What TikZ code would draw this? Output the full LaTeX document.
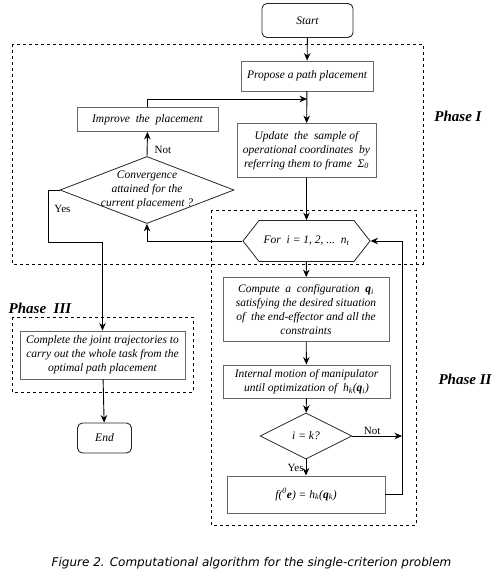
\documentclass[tikz,border=0pt]{standalone}
\usepackage{fontspec}
\setmainfont{Liberation Serif}
\newfontfamily\captionfont{DejaVu Sans}
\usetikzlibrary{arrows.meta, shapes.geometric, shapes.symbols}

\newcommand{\qvec}{\textbf{\textit{q}}}
\newcommand{\evec}{\textbf{\textit{e}}}

\begin{document}
\begin{tikzpicture}[
    x=1pt, y=-1pt,
    font=\fontsize{11.5}{13.8}\selectfont\itshape,
    box/.style={rectangle, draw=black!60, line width=0.9pt, inner sep=1pt, align=center},
    terminal/.style={box, draw=black!85, rounded corners=5pt},
    decision/.style={diamond, draw=black!85, line width=0.8pt, inner sep=0pt, align=center},
    loopnode/.style={signal, signal to=west and east, signal pointer angle=104, draw=black!85, line width=0.8pt, inner sep=0pt},
    flow/.style={-{Stealth[length=7.5pt, width=6.5pt]}, line width=0.9pt},
    phase/.style={dashed, line width=0.6pt},
    phasename/.style={font=\fontsize{15}{15}\selectfont\bfseries\itshape},
    answer/.style={font=\fontsize{11}{11}\selectfont\upshape, inner sep=1pt}
]

    % Marco de la figura
    \useasboundingbox (0,0) rectangle (497,575);

    % Zonas de las fases
    \draw[phase] (12,44) rectangle (423,264);
    \draw[phase] (211,210) rectangle (416,525);
    \draw[phase] (12,317) rectangle (193,392);

    \node[phasename] (phaseone) at (458,116) {Phase I};
    \node[phasename] (phasetwo) at (465,379) {Phase II};
    \node[phasename] (phasethree) at (40,308) {Phase\ \ III};

    % Bloques del diagrama
    \node[terminal, minimum width=91, minimum height=34] (start) at (307.5,20.5) {Start};
    \node[box, minimum width=132, minimum height=30] (propose) at (307,76) {Propose a path placement};
    \node[box, minimum width=141, minimum height=24] (improve) at (147.5,119.5) {Improve\ \ the\ \ placement};
    \node[box, minimum width=139, minimum height=54] (update) at (306.5,150.5)
        {Update\ \ the\ \ sample of\\ operational coordinates\ \ by\\ referring them to frame\ \ Σ\textsubscript{0}};
    \node[decision, minimum width=174, minimum height=67, aspect=2.6, inner xsep=-8pt, inner ysep=-2pt] (conv) at (147,190)
        {Convergence\\ attained for the\\ current placement ?};
    \node[loopnode, minimum width=127, minimum height=41] (loop) at (306.5,241)
        {For\ \ i = 1, 2, ...\ \ n\textsubscript{t}};
    \node[box, minimum width=166, minimum height=64] (compute) at (306,309.5)
        {Compute\ \ a\ \ configuration\ \ \qvec\textsubscript{i}\\ satisfying the desired situation\\ of\ \ the end-effector and all the\\ constraints};
    \node[box, minimum width=167, minimum height=33] (internal) at (306.5,381.5)
        {Internal motion of manipulator\\ until optimization of\ \ h\textsubscript{k}(\qvec\textsubscript{i})};
    \node[decision, minimum width=92, minimum height=46, aspect=2] (check) at (306,436) {i = k?};
    \node[box, minimum width=158, minimum height=37] (result) at (306,494.5)
        {f(\textsuperscript{0}\evec) = h\textsubscript{k}(\qvec\textsubscript{k})};
    \node[box, minimum width=165, minimum height=48] (complete) at (102.5,355)
        {Complete the joint trajectories to\\ carry out the whole task from the\\ optimal path placement};
    \node[terminal, minimum width=54, minimum height=30] (end) at (104.5,438) {End};

    % Puntos auxiliares
    \coordinate (merge) at (307,99);
    \coordinate (yesbend) at (48,242);
    \coordinate (notend) at (402,436);
    \coordinate (loopback) at (402,241);

    % Conexiones de la fase I
    \draw[flow] (start) -- (propose);
    \draw[flow] (propose) -- (update);
    \draw[flow] (improve.north) |- (merge);
    \draw[flow] (update) -- (loop);
    \draw[flow] (loop.west) -| (conv.south);
    \draw[flow] (conv.north) -- (improve.south) node[answer, pos=0.25, right=6pt] {Not};
    \draw[flow] (conv.west) -| (yesbend) node[answer, pos=0.68, right=5pt] {Yes} -| (complete.north);

    % Conexiones de la fase II
    \draw[flow] (loop) -- (compute);
    \draw[flow] (compute) -- (internal);
    \draw[flow] (internal) -- (check);
    \draw[flow] (check) -- (result) node[answer, midway, left=1pt] {Yes};
    \draw[flow] (check.east) -- (notend) node[answer, pos=0.4, above] {Not};
    \draw[flow] (result.east) -| (loopback) -- (loop.east);

    % Fase III
    \draw[flow] (complete) -- (end);

    % Pie de figura
    \node[font=\captionfont\itshape\fontsize{12}{12}\selectfont] (caption) at (251.5,563)
        {Figure 2. Computational algorithm for the single-criterion problem};

\end{tikzpicture}
\end{document}
